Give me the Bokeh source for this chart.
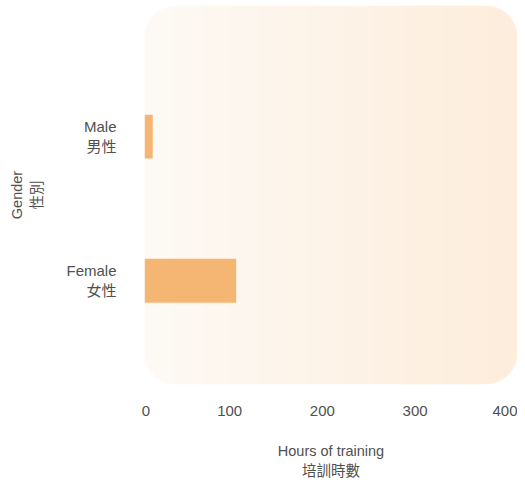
import numpy as np
from bokeh.plotting import figure
from bokeh.models import Range1d, FixedTicker, ColumnDataSource
from bokeh.embed import file_html
from bokeh.resources import INLINE

# ---- data ----
gender_labels = ["Female\n女性", "Male\n男性"]
gender_pos = [0, 1]
hours = [107, 17]
x_ticks = [0, 100, 200, 300, 400]
x_tick_labels = ["0", "100", "200", "300", "400"]
x_title = "Hours of training\n培訓時數"
y_title = "Gender\n性別"

# ---- styling ----
FONT = "'Liberation Sans', 'Noto Sans CJK TC', sans-serif"
TXT = "#505050"
BAR = "#f5b674"

W, H = 517, 482
BL, BT, BB = 144, 5, 98          # left / top / bottom borders
FW, FH = W - BL, H - BB - BT     # frame size in px

xr = Range1d(8.1, 410.5)
yr = Range1d(-0.72, 1.91)

p = figure(width=W, height=H, x_range=xr, y_range=yr,
           output_backend="svg", toolbar_location=None,
           min_border_left=BL, min_border_right=0, min_border_top=BT,
           min_border_bottom=BB)
p.outline_line_color = None
p.background_fill_alpha = 0
p.border_fill_color = "white"
p.grid.visible = False

# rounded gradient background of the plotting frame
left_c = np.array([254, 250, 245], dtype=float)
right_c = np.array([253, 237, 220], dtype=float)
img = np.empty((FH, FW), dtype=np.uint32)
view = img.view(dtype=np.uint8).reshape((FH, FW, 4))
t = np.linspace(0, 1, FW)[None, :, None]
rgb = left_c[None, None, :] * (1 - t) + right_c[None, None, :] * t
view[:, :, :3] = np.broadcast_to(rgb, (FH, FW, 3)).astype(np.uint8)
R = 32.0
yy, xx = np.mgrid[0:FH, 0:FW].astype(float) + 0.5
cx = np.clip(xx, R, FW - R)
cy = np.clip(yy, R, FH - R)
d = np.sqrt((xx - cx) ** 2 + (yy - cy) ** 2)
alpha = np.clip(R - d + 0.5, 0, 1) * 255
view[:, :, 3] = alpha.astype(np.uint8)
p.image_rgba(image=[img], x=xr.start, y=yr.start,
             dw=xr.end - xr.start, dh=yr.end - yr.start)

src = ColumnDataSource(dict(y=gender_pos, h=hours))
p.hbar(y="y", left=0, right="h", height=0.305, source=src,
       fill_color=BAR, line_color=None)

# axes (first tick label is kept inside the plot area, as in the original)
tick_pos = [max(v, xr.start + 1.5) for v in x_ticks]
p.xaxis.ticker = FixedTicker(ticks=tick_pos)
p.xaxis.major_label_overrides = {pos: lab for pos, lab in zip(tick_pos, x_tick_labels)}
p.yaxis.ticker = FixedTicker(ticks=gender_pos)
p.yaxis.major_label_overrides = {pos: lab for pos, lab in zip(gender_pos, gender_labels)}
p.xaxis.axis_label = x_title
p.yaxis.axis_label = y_title

for ax in (p.xaxis, p.yaxis):
    ax.axis_line_color = None
    ax.major_tick_line_color = None
    ax.minor_tick_line_color = None
    ax.major_tick_out = 0
    ax.major_tick_in = 0
    ax.major_label_text_font = FONT
    ax.major_label_text_color = TXT
    ax.major_label_text_font_size = "15px"
    ax.axis_label_text_font = FONT
    ax.axis_label_text_color = TXT
    ax.axis_label_text_font_style = "normal"
    ax.axis_label_text_font_size = "14.5px"
    ax.axis_label_text_line_height = 1.3
    ax.major_label_text_line_height = 1.2

p.xaxis.major_label_standoff = 21
p.xaxis.axis_label_standoff = 24
p.yaxis.major_label_standoff = 28
p.yaxis.axis_label_standoff = 18

open("out.html", "w").write(file_html(p, INLINE))
